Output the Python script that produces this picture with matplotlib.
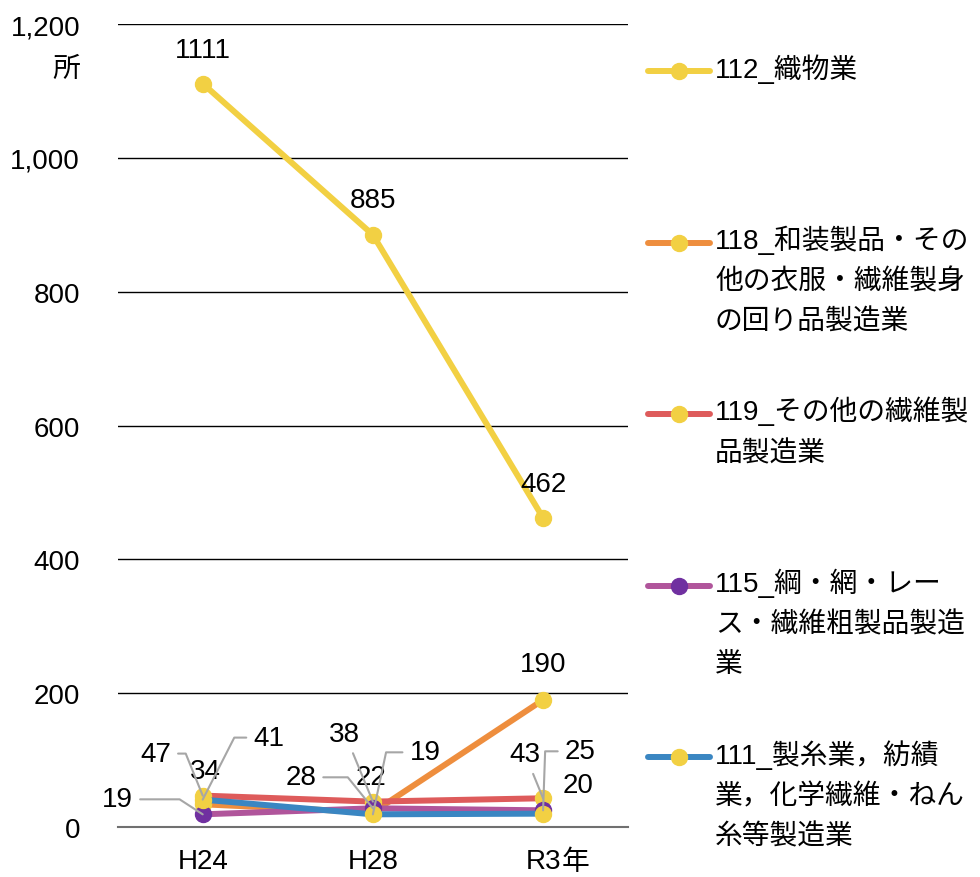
import matplotlib
matplotlib.use("Agg")
import matplotlib.pyplot as plt
from matplotlib.lines import Line2D

plt.rcParams['font.family'] = ['Liberation Sans', 'Noto Sans CJK JP']

years = ['H24', 'H28', 'R3']

# series values (所)
v112 = [1111, 885, 462]
v118 = [34, 22, 190]
v119 = [47, 38, 43]
v115 = [19, 28, 25]
v111 = [41, 19, 20]

legend_labels = [
    '112_織物業',
    '118_和装製品・その\n他の衣服・繊維製身\nの回り品製造業',
    '119_その他の繊維製\n品製造業',
    '115_綱・網・レー\nス・繊維粗製品製造\n業',
    '111_製糸業，紡績\n業，化学繊維・ねん\n糸等製造業',
]

line_colors = ['#F2D043', '#EE8E3E', '#DE5B5B', '#B0559B', '#3A86C2']
marker_colors = ['#F2D043', '#F2D043', '#F2D043', '#7030A0', '#F2D043']
series = [v112, v118, v119, v115, v111]

FS = 20

fig = plt.figure(figsize=(9.8, 8.78), dpi=100)
ax = fig.add_axes([0.120, 0.0569, 0.521, 0.9146])

x = range(len(years))
for vals, lc, mc in zip(series, line_colors, marker_colors):
    ax.plot(x, vals, color=lc, lw=4.3, marker='o', ms=11.5,
            mfc=mc, mec=mc, solid_capstyle='round', zorder=3)

ax.set_xlim(-0.5, 2.5)
ax.set_ylim(0, 1200)
ax.set_yticks(range(0, 1201, 200))
ax.set_yticklabels([f'{t:,}' for t in range(0, 1201, 200)])
ax.set_xticks(list(x))
ax.set_xticklabels(years)
ax.tick_params(length=0, labelsize=FS)
ax.tick_params(axis='y', pad=27)
ax.tick_params(axis='x', pad=15)
ax.grid(axis='y', color='black', lw=1)
ax.set_axisbelow(True)
for s in ['left', 'right', 'top']:
    ax.spines[s].set_visible(False)
ax.spines['bottom'].set_color('#707070')
ax.spines['bottom'].set_linewidth(1.5)

fig.text(66 / 980, 1 - 70 / 878, '所', fontsize=FS, ha='center', va='center')
fig.text(576 / 980, 1 - 863 / 878, '年', fontsize=FS, ha='center', va='center')

# plain labels (series index, x index, offset in pixels)
plain = [
    (0, 0, 0, 34), (0, 1, 0, 35), (0, 2, 0, 34),
    (1, 2, 0, 36),
    (1, 0, 3, 33), (1, 1, -2, 35),
    (4, 2, 35, 29),
]
for si, xi, dx, dy in plain:
    ax.annotate(str(series[si][xi]), (xi, series[si][xi]), xytext=(dx, dy),
                textcoords='offset pixels', ha='center', va='center',
                fontsize=FS, zorder=5)

# labels with gray leader lines
lead = [
    (2, 0, -47, 42, 'angle,angleA=0,angleB=112,rad=0'),
    (4, 0, 66, 62, 'angle,angleA=0,angleB=63,rad=0'),
    (3, 0, -85, 15, 'angle,angleA=0,angleB=147,rad=0'),
    (2, 1, -28, 68, 'arc3'),
    (3, 1, -72, 31, 'angle,angleA=0,angleB=129,rad=0'),
    (4, 1, 52, 62, 'angle,angleA=0,angleB=78,rad=0'),
    (2, 2, -18, 44, 'arc3'),
    (3, 2, 37, 59, 'angle,angleA=0,angleB=88,rad=0'),
]
for si, xi, dx, dy, cs in lead:
    ax.annotate(str(series[si][xi]), (xi, series[si][xi]), xytext=(dx, dy),
                textcoords='offset pixels', ha='center', va='center',
                fontsize=FS, zorder=5,
                arrowprops=dict(arrowstyle='-', color='#A6A6A6', lw=1.5,
                                shrinkA=3, shrinkB=0, connectionstyle=cs))

# legend drawn by hand, entries evenly spaced
W, H = 980, 878
for i, (lab, lc, mc) in enumerate(zip(legend_labels, line_colors, marker_colors)):
    yc = 72 + i * 171.5
    fig.add_artist(Line2D([648 / W, 710 / W], [1 - yc / H, 1 - yc / H],
                          color=lc, lw=4.3, solid_capstyle='round'))
    fig.add_artist(Line2D([679 / W], [1 - yc / H], marker='o', ms=11.5,
                          mfc=mc, mec=mc, lw=0))
    fig.text(715 / W, 1 - (yc - 18) / H, lab, fontsize=FS, ha='left', va='top',
             linespacing=1.7)

fig.savefig('out.png', dpi=100)
